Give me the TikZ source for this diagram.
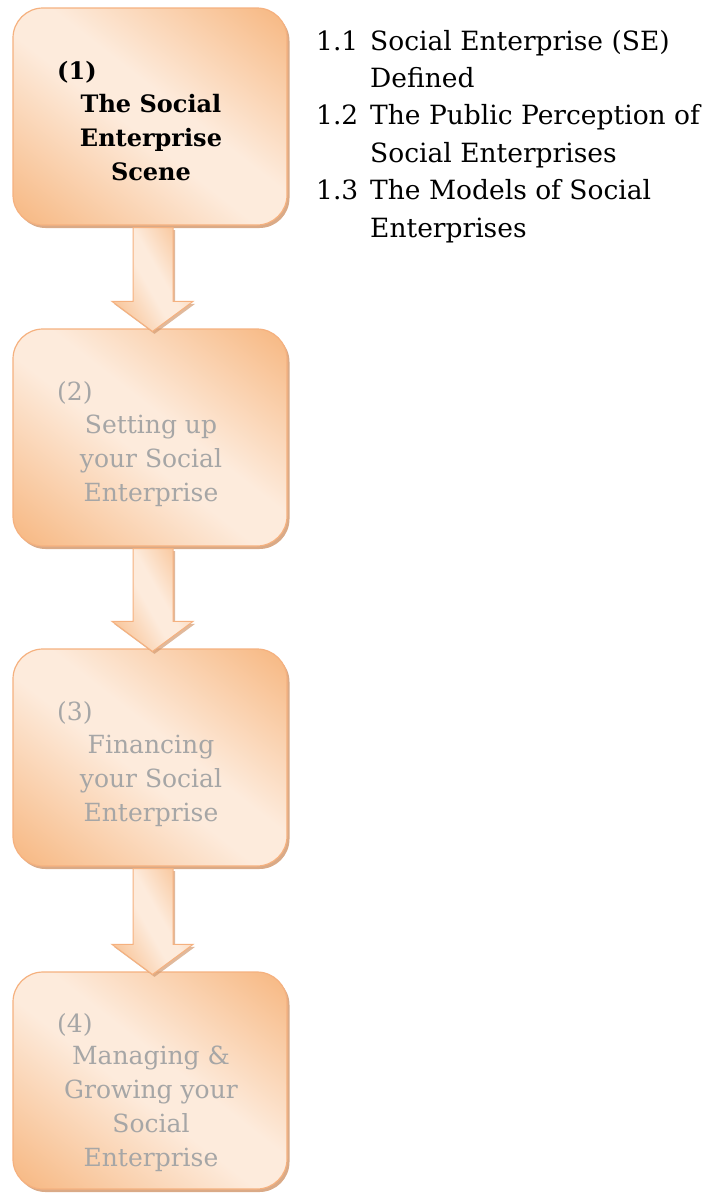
\documentclass[tikz,border=0pt]{standalone}
\usepackage{fontspec}
\setmainfont{DejaVu Serif}
\usetikzlibrary{shadows,calc}

\definecolor{peachdark}{HTML}{F7BA86}
\definecolor{peachlight}{HTML}{FDEBDC}
\definecolor{peachline}{HTML}{F5B17F}
\definecolor{peachshadow}{HTML}{D39B72}
\definecolor{mutedtext}{HTML}{A6A6A6}

% soft diagonal band: orange at both ends, pale in the middle
\pgfdeclareverticalshading{peachband}{100bp}{%
  color(0bp)=(peachdark); color(17bp)=(peachdark); color(46bp)=(peachlight);
  color(55bp)=(peachlight); color(83bp)=(peachdark); color(100bp)=(peachdark)}

% block arrow from the bottom of one stage to the top of the next
\newcommand\stagearrow[2]{%
  \path[flowarrow]
    ($(#1.south)+(-17,2)$) -- ($(#2.north)+(-17,-27)$) -- ($(#2.north)+(-38,-27)$)
    -- ($(#2.north)+(2.5,3)$)
    -- ($(#2.north)+(43,-27)$) -- ($(#2.north)+(23,-27)$) -- ($(#1.south)+(23,2)$) -- cycle;}

\begin{document}
\begin{tikzpicture}[x=1pt,y=-1pt,
  stagebox/.style={rectangle, rounded corners=30pt, minimum width=274pt,
    minimum height=217pt, inner sep=0pt, draw=peachline, line width=1.2pt,
    shade, shading=peachband, shading angle=-38,
    drop shadow={shadow xshift=2.5pt, shadow yshift=-3pt, fill=peachshadow, opacity=0.85}},
  flowarrow/.style={draw=peachline, line width=1pt, line join=miter,
    shade, shading=peachband, shading angle=-60,
    drop shadow={shadow xshift=2pt, shadow yshift=-2.5pt, fill=peachshadow, opacity=0.7}},
  boxtext/.style={font=\fontsize{25}{34}\selectfont, inner sep=0pt},
  activetext/.style={boxtext, font=\fontsize{24}{34}\selectfont\bfseries, text=black},
  idletext/.style={boxtext, text=mutedtext},
  listtext/.style={font=\fontsize{26.5}{37}\selectfont, inner sep=0pt, anchor=base west, text=black}
]
\useasboundingbox (0,0) rectangle (714,1194);

% stages
\node[stagebox] (s1) at (150,116.5) {};
\node[stagebox] (s2) at (150,437.5) {};
\node[stagebox] (s3) at (150,757.5) {};
\node[stagebox] (s4) at (150,1080.5) {};

% connectors
\stagearrow{s1}{s2}
\stagearrow{s2}{s3}
\stagearrow{s3}{s4}

% stage 1
\node[activetext, anchor=base west] (s1n) at (57,79) {(1)};
\node[activetext, anchor=base] (s1a) at (151,112) {The Social};
\node[activetext, anchor=base] (s1b) at (151,146) {Enterprise};
\node[activetext, anchor=base] (s1c) at (151,180) {Scene};

% stage 2
\node[idletext, anchor=base west] (s2n) at (57,400) {(2)};
\node[idletext, anchor=base] (s2a) at (151,433) {Setting up};
\node[idletext, anchor=base] (s2b) at (151,467) {your Social};
\node[idletext, anchor=base] (s2c) at (151,501) {Enterprise};

% stage 3
\node[idletext, anchor=base west] (s3n) at (57,720) {(3)};
\node[idletext, anchor=base] (s3a) at (151,753) {Financing};
\node[idletext, anchor=base] (s3b) at (151,787) {your Social};
\node[idletext, anchor=base] (s3c) at (151,821) {Enterprise};

% stage 4
\node[idletext, anchor=base west] (s4n) at (57,1032) {(4)};
\node[idletext, anchor=base] (s4a) at (151,1064) {Managing \&};
\node[idletext, anchor=base] (s4b) at (151,1098) {Growing your};
\node[idletext, anchor=base] (s4c) at (151,1132) {Social};
\node[idletext, anchor=base] (s4d) at (151,1166) {Enterprise};

% topics of stage 1
\node[listtext] (n11) at (316,50) {1.1};
\node[listtext] (t11a) at (370,50) {Social Enterprise (SE)};
\node[listtext] (t11b) at (370,87) {Defined};
\node[listtext] (n12) at (316,124) {1.2};
\node[listtext] (t12a) at (370,124) {The Public Perception of};
\node[listtext] (t12b) at (370,162) {Social Enterprises};
\node[listtext] (n13) at (316,199) {1.3};
\node[listtext] (t13a) at (370,199) {The Models of Social};
\node[listtext] (t13b) at (370,237) {Enterprises};
\end{tikzpicture}
\end{document}
